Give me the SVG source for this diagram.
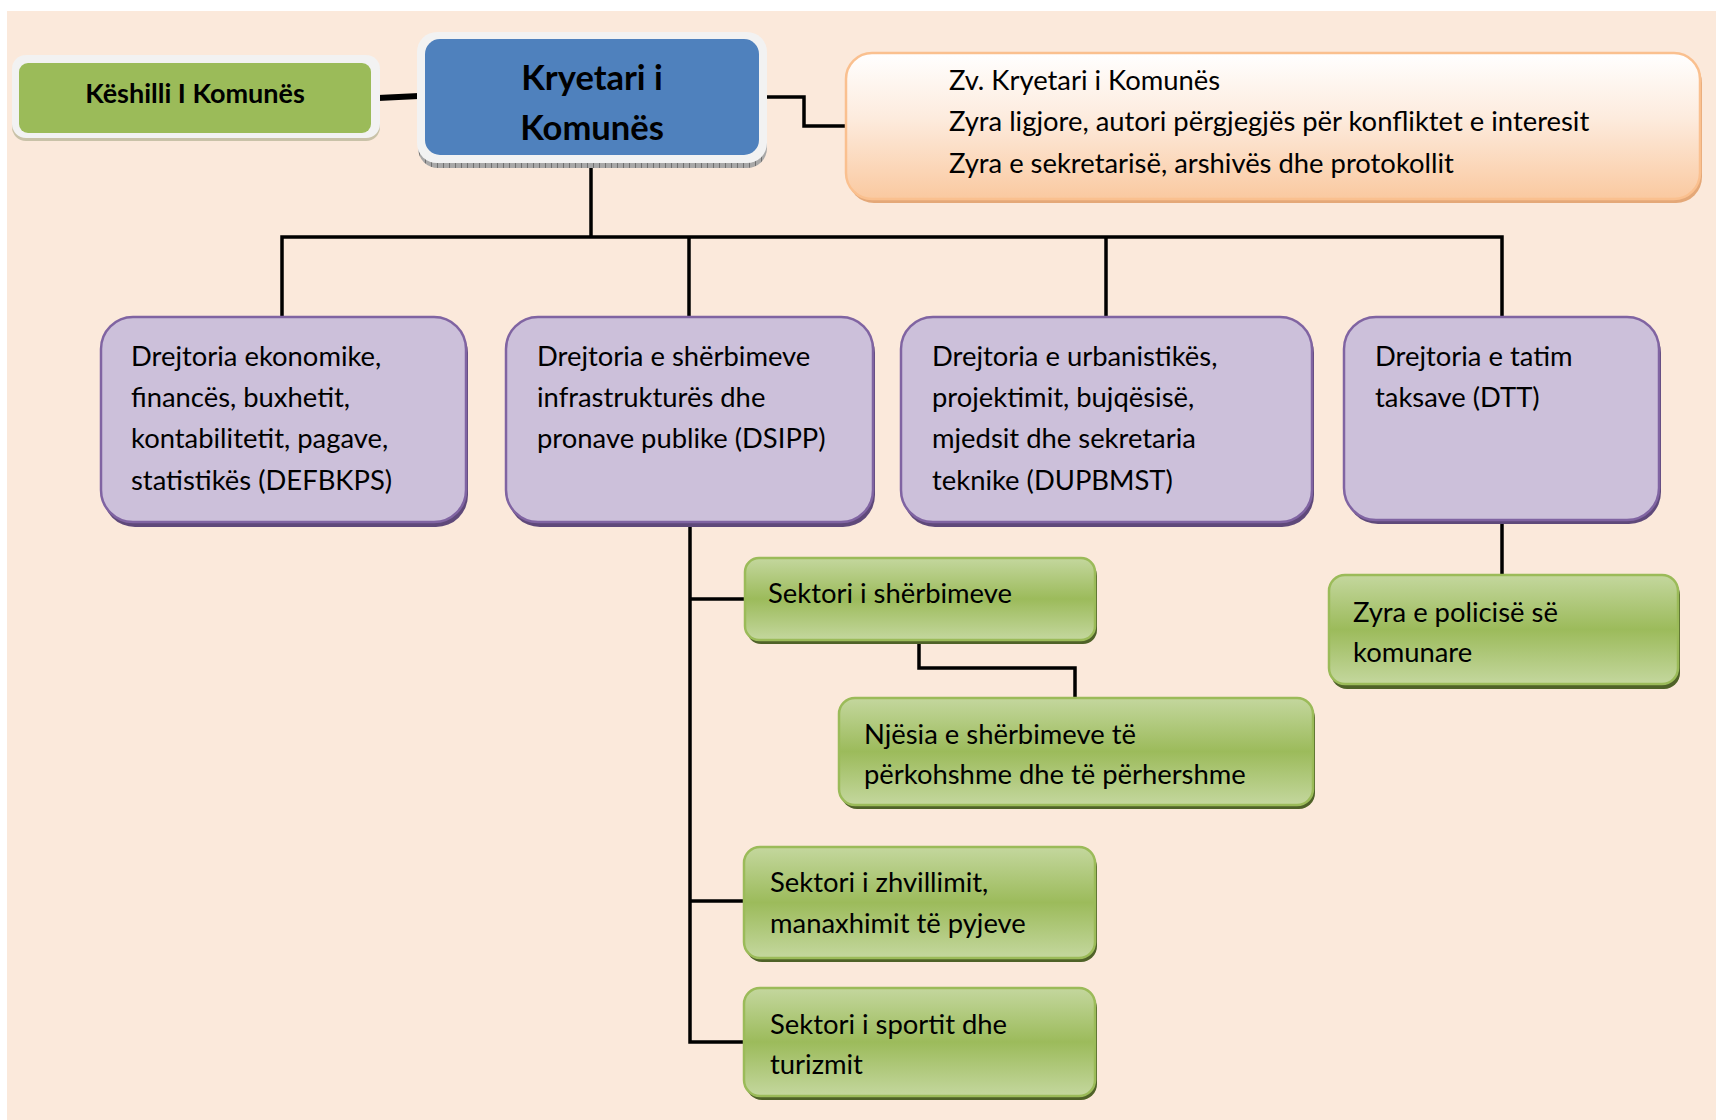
<svg xmlns="http://www.w3.org/2000/svg" width="1716" height="1120" viewBox="0 0 1716 1120">
<defs>
<linearGradient id="gGreen" x1="0" y1="0" x2="0" y2="1">
<stop offset="0" stop-color="#C4D79E"/>
<stop offset="0.5" stop-color="#9CBB5B"/>
<stop offset="1" stop-color="#C4D79E"/>
</linearGradient>
<linearGradient id="gPeach" x1="0" y1="0" x2="0" y2="1">
<stop offset="0" stop-color="#FFFFFF"/>
<stop offset="0.45" stop-color="#FDEBDD"/>
<stop offset="1" stop-color="#FAC9A0"/>
</linearGradient>
<pattern id="stripe" width="6" height="6" patternUnits="userSpaceOnUse">
<rect width="6" height="6" fill="#A8A8A8"/>
<rect x="5" width="1" height="6" fill="#707070"/>
</pattern>
</defs>
<style>
.t{font-family:Lato,"Liberation Sans",sans-serif;font-size:27.4px;fill:#000}
.tb{font-family:Lato,"Liberation Sans",sans-serif;font-weight:bold;fill:#000}
.purple{fill:#CCC0DA;stroke:#8064A2;stroke-width:2.5}
.pshadow{fill:#5F497A}
.green{fill:url(#gGreen);stroke:#9BBB59;stroke-width:2.5}
.gshadow{fill:#4F6228}
.conn{fill:none;stroke:#000;stroke-width:3.5}
</style>
<rect x="7" y="11" width="1709" height="1109" fill="#FBE9DB"/>

<g id="connectors">
<line x1="378" y1="98" x2="419" y2="96" stroke="#000" stroke-width="6"/>
<path class="conn" d="M767 97 H804 V126 H847"/>
<path class="conn" d="M591 163 V237"/>
<path class="conn" d="M282 317 V237 H1502 V317"/>
<path class="conn" d="M689 237 V317"/>
<path class="conn" d="M1106 237 V317"/>
<path class="conn" d="M1502 521 V575"/>
<path class="conn" d="M690 522 V1042 H745"/>
<path class="conn" d="M690 599 H745"/>
<path class="conn" d="M690 901 H745"/>
<path class="conn" d="M919 640 V668 H1075 V698"/>
</g>

<g id="keshilli">
<rect x="12" y="59" width="368" height="82" rx="14" fill="#C9C2A8"/>
<rect x="12" y="55" width="368" height="83" rx="14" fill="#F2F2F2"/>
<rect x="19" y="63" width="352" height="70" rx="9" fill="#9BBB59"/>
<text class="tb" x="195" y="103" font-size="27" text-anchor="middle">Këshilli I Komunës</text>
</g>

<g id="kryetari">
<rect x="418" y="40" width="349" height="128" rx="20" fill="url(#stripe)"/>
<rect x="417" y="32" width="350" height="131" rx="20" fill="#F2F2F2"/>
<rect x="425" y="39" width="334" height="116" rx="15" fill="#4F81BD"/>
<text class="tb" x="592" y="90" font-size="34.5" text-anchor="middle">Kryetari i</text>
<text class="tb" x="592" y="140" font-size="34.5" text-anchor="middle">Komunës</text>
</g>

<g id="zv-kryetari">
<rect x="848" y="57" width="854" height="146" rx="26" fill="#E4A878"/>
<rect x="846" y="53" width="854" height="146" rx="26" fill="url(#gPeach)" stroke="#FAC08F" stroke-width="2.5"/>
<text class="t" x="949" y="90">Zv. Kryetari i Komunës</text>
<text class="t" x="949" y="131">Zyra ligjore, autori përgjegjës për konfliktet e interesit</text>
<text class="t" x="949" y="173">Zyra e sekretarisë, arshivës dhe protokollit</text>
</g>

<g id="d-ekonomike">
<rect class="pshadow" x="103" y="321" width="365" height="206" rx="32"/>
<rect class="purple" x="101" y="317" width="365" height="205" rx="32"/>
<text class="t" x="131" y="366">Drejtoria ekonomike,</text>
<text class="t" x="131" y="407">financës, buxhetit,</text>
<text class="t" x="131" y="448">kontabilitetit, pagave,</text>
<text class="t" x="131" y="490">statistikës (DEFBKPS)</text>
</g>

<g id="d-dsipp">
<rect class="pshadow" x="508" y="321" width="367" height="206" rx="32"/>
<rect class="purple" x="506" y="317" width="367" height="205" rx="32"/>
<text class="t" x="537" y="366">Drejtoria e shërbimeve</text>
<text class="t" x="537" y="407">infrastrukturës dhe</text>
<text class="t" x="537" y="448">pronave publike (DSIPP)</text>
</g>

<g id="d-dupbmst">
<rect class="pshadow" x="903" y="321" width="411" height="206" rx="32"/>
<rect class="purple" x="901" y="317" width="411" height="205" rx="32"/>
<text class="t" x="932" y="366">Drejtoria e urbanistikës,</text>
<text class="t" x="932" y="407">projektimit, bujqësisë,</text>
<text class="t" x="932" y="448">mjedsit dhe sekretaria</text>
<text class="t" x="932" y="490">teknike (DUPBMST)</text>
</g>

<g id="d-dtt">
<rect class="pshadow" x="1346" y="321" width="315" height="203" rx="32"/>
<rect class="purple" x="1344" y="317" width="315" height="203" rx="32"/>
<text class="t" x="1375" y="366">Drejtoria e tatim</text>
<text class="t" x="1375" y="407">taksave (DTT)</text>
</g>

<g id="policia">
<rect class="gshadow" x="1331" y="579" width="349" height="110" rx="16"/>
<rect class="green" x="1329" y="575" width="349" height="109" rx="16"/>
<text class="t" x="1353" y="622">Zyra e policisë së</text>
<text class="t" x="1353" y="662">komunare</text>
</g>

<g id="sektori-sherbimeve">
<rect class="gshadow" x="747" y="562" width="350" height="82" rx="14"/>
<rect class="green" x="745" y="558" width="350" height="82" rx="14"/>
<text class="t" x="768" y="603">Sektori i shërbimeve</text>
</g>

<g id="njesia">
<rect class="gshadow" x="841" y="702" width="474" height="107" rx="16"/>
<rect class="green" x="839" y="698" width="474" height="107" rx="16"/>
<text class="t" x="864" y="744">Njësia e shërbimeve të</text>
<text class="t" x="864" y="784">përkohshme dhe të përhershme</text>
</g>

<g id="sektori-zhvillimit">
<rect class="gshadow" x="746" y="851" width="351" height="111" rx="16"/>
<rect class="green" x="744" y="847" width="351" height="111" rx="16"/>
<text class="t" x="770" y="892">Sektori i zhvillimit,</text>
<text class="t" x="770" y="933">manaxhimit të pyjeve</text>
</g>

<g id="sektori-sportit">
<rect class="gshadow" x="746" y="992" width="351" height="108" rx="16"/>
<rect class="green" x="744" y="988" width="351" height="108" rx="16"/>
<text class="t" x="770" y="1034">Sektori i sportit dhe</text>
<text class="t" x="770" y="1074">turizmit</text>
</g>
</svg>
